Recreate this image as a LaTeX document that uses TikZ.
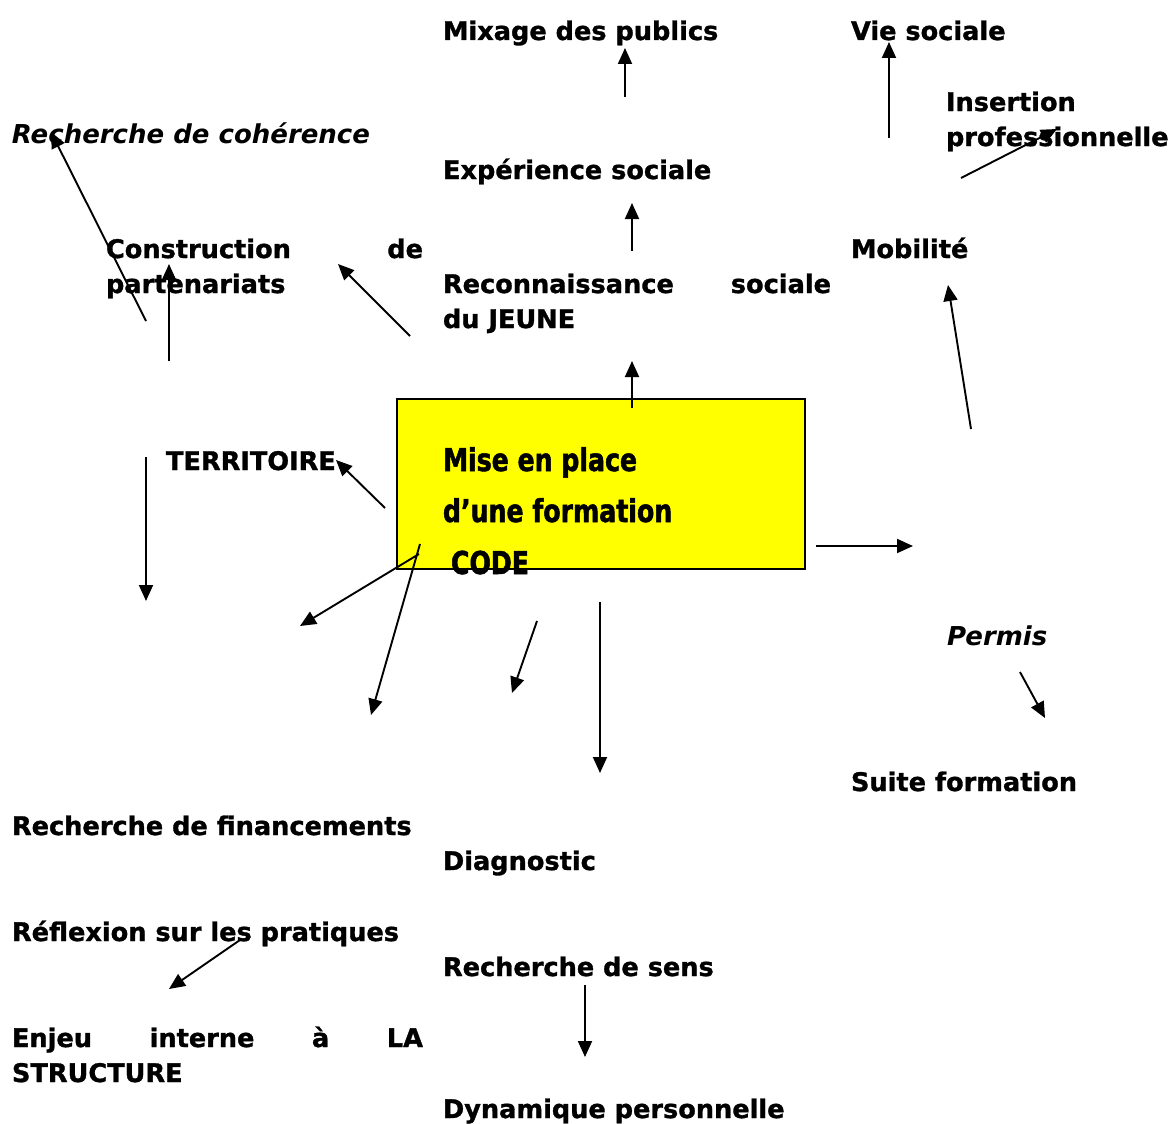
\documentclass[tikz,border=0pt]{standalone}
\usepackage{fontspec}
\setmainfont{DejaVu Sans}[BoldFeatures={FakeBold=1.2}]
\newfontfamily\condfont{DejaVu Sans}[FakeStretch=0.8,BoldFeatures={FakeBold=1.6}]
\usetikzlibrary{arrows.meta}
\definecolor{boxyellow}{RGB}{255,255,0}
\begin{document}
\begin{tikzpicture}[x=1pt,y=-1pt,
  lbl/.style={anchor=base west,inner sep=0pt,outer sep=0pt,font=\fontsize{25.6}{35}\selectfont\bfseries,align=left},
  ilbl/.style={lbl,font=\fontsize{26}{35}\selectfont\bfseries\itshape},
  blbl/.style={anchor=base west,inner sep=0pt,outer sep=0pt,font=\fontsize{31.5}{35}\selectfont\condfont\bfseries},
  arr/.style={line width=1.9pt,-{Triangle[length=16pt,width=14pt]}},
  mainbox/.style={draw,line width=1.5pt,fill=boxyellow,anchor=north west,minimum width=408pt,minimum height=170pt,inner sep=0pt}]
\useasboundingbox (0,0) rectangle (1176,1124);
\fill[white] (0,0) rectangle (1176,1124);
% central box
\node[mainbox] (box) at (396,398) {};
\node[blbl] (mise) at (443,471) {Mise en place};
\node[blbl] (formation) at (443,522) {d’une formation};
\node[blbl] (code) at (451,574) {CODE};
% labels
\node[lbl] (mixage) at (443,40) {Mixage des publics};
\node[lbl] (vie) at (851,40) {Vie sociale};
\node[lbl] (insertion) at (946,146) {Insertion\\professionnelle};
\node[ilbl] (coherence) at (12,143) {Recherche de cohérence};
\node[lbl] (experience) at (443,179) {Expérience sociale};
\node[lbl] (construction) at (106,293) {\makebox[317pt][s]{Construction de}\\partenariats};
\node[lbl] (mobilite) at (851,258) {Mobilité};
\node[lbl] (reconnaissance) at (443,328) {\makebox[388pt][s]{Reconnaissance sociale}\\du JEUNE};
\node[lbl] (territoire) at (166,470) {TERRITOIRE};
\node[ilbl] (permis) at (947,645) {Permis};
\node[lbl] (suite) at (851,791) {Suite formation};
\node[lbl] (financements) at (12,835) {Recherche de financements};
\node[lbl] (diagnostic) at (443,870) {Diagnostic};
\node[lbl] (reflexion) at (12,941) {Réflexion sur les pratiques};
\node[lbl] (sens) at (443,976) {Recherche de sens};
\node[lbl] (enjeu) at (12,1082) {\makebox[411pt][s]{Enjeu interne à LA}\\STRUCTURE};
\node[lbl] (dynamique) at (443,1118) {Dynamique personnelle};
% arrow end points
\coordinate (a1s) at (625,97);   \coordinate (a1e) at (625,48);
\coordinate (a2s) at (889,138);  \coordinate (a2e) at (889,42);
\coordinate (a3s) at (961,178);  \coordinate (a3e) at (1057,129);
\coordinate (a4s) at (146,321);  \coordinate (a4e) at (51,132);
\coordinate (a5s) at (169,361);  \coordinate (a5e) at (169,264);
\coordinate (a6s) at (410,336);  \coordinate (a6e) at (338,264);
\coordinate (a7s) at (632,251);  \coordinate (a7e) at (632,203);
\coordinate (a8s) at (632,408);  \coordinate (a8e) at (632,361);
\coordinate (a9s) at (971,429);  \coordinate (a9e) at (948,285);
\coordinate (a10s) at (385,508); \coordinate (a10e) at (336,460);
\coordinate (a11s) at (146,457); \coordinate (a11e) at (146,601);
\coordinate (a12s) at (419,554); \coordinate (a12e) at (300,626);
\coordinate (a13s) at (420,544); \coordinate (a13e) at (371,715);
\coordinate (a14s) at (537,621); \coordinate (a14e) at (512,693);
\coordinate (a15s) at (600,602); \coordinate (a15e) at (600,773);
\coordinate (a16s) at (816,546); \coordinate (a16e) at (913,546);
\coordinate (a17s) at (1020,672);\coordinate (a17e) at (1045,718);
\coordinate (a18s) at (240,940); \coordinate (a18e) at (169,989);
\coordinate (a19s) at (585,985); \coordinate (a19e) at (585,1057);
\foreach \i in {1,...,19} {\draw[arr] (a\i s) -- (a\i e);}
\end{tikzpicture}
\end{document}
